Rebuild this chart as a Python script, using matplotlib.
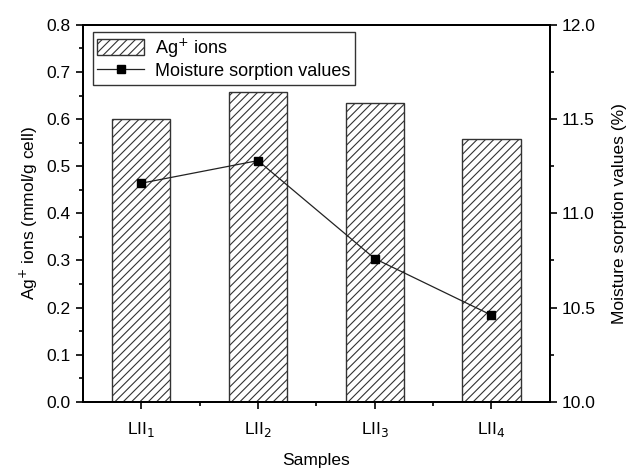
import matplotlib
matplotlib.use("Agg")
import matplotlib.pyplot as plt
from matplotlib.ticker import MultipleLocator, FixedLocator

plt.rcParams['font.family'] = ['Liberation Sans', 'DejaVu Sans']
plt.rcParams['hatch.linewidth'] = 0.8
plt.rcParams['hatch.color'] = '#333333'

# data
samples = ['LII$_1$', 'LII$_2$', 'LII$_3$', 'LII$_4$']
ag_ions = [0.600, 0.657, 0.635, 0.558]
moisture = [11.16, 11.28, 10.76, 10.46]

fig = plt.figure(figsize=(6.32, 4.70), dpi=100)
ax = fig.add_axes([0.131, 0.145, 0.739, 0.802])
x = list(range(len(samples)))

bars = ax.bar(x, ag_ions, width=0.5, color='white', edgecolor='#333333',
              linewidth=1.0, hatch='////', label='Ag$^{+}$ ions')
ax.set_xlim(-0.5, 3.5)
ax.set_ylim(0, 0.8)
ax.set_xticks(x)
ax.set_xticklabels(samples)
ax.xaxis.set_minor_locator(FixedLocator([0.5, 1.5, 2.5]))
ax.yaxis.set_major_locator(MultipleLocator(0.1))
ax.yaxis.set_minor_locator(MultipleLocator(0.05))
ax.set_xlabel('Samples', fontsize=12.5, labelpad=10)
ax.set_ylabel('Ag$^{+}$ ions (mmol/g cell)', fontsize=12.5, labelpad=5)
ax.tick_params(axis='both', which='major', direction='out', length=5, width=1.2, labelsize=12.5)
ax.tick_params(axis='both', which='minor', direction='out', length=3, width=1.2)
ax.tick_params(axis='x', which='major', pad=8)
for s in ax.spines.values():
    s.set_linewidth(1.4)

ax2 = ax.twinx()
line, = ax2.plot(x, moisture, color='#222222', linewidth=0.9, marker='s',
                 markersize=6, markerfacecolor='black', markeredgecolor='black',
                 label='Moisture sorption values')
ax2.set_ylim(10.0, 12.0)
ax2.yaxis.set_major_locator(MultipleLocator(0.5))
ax2.yaxis.set_minor_locator(MultipleLocator(0.25))
ax2.set_ylabel('Moisture sorption values (%)', fontsize=12.5, labelpad=12)
ax2.tick_params(axis='y', which='major', direction='out', length=5, width=1.2, labelsize=12.5)
ax2.tick_params(axis='y', which='minor', direction='out', length=3, width=1.2)
for s in ax2.spines.values():
    s.set_linewidth(1.4)

leg = ax.legend([bars, line], ['Ag$^{+}$ ions', 'Moisture sorption values'],
                loc='upper left', bbox_to_anchor=(0.021, 0.982), fontsize=13,
                frameon=True, fancybox=False, edgecolor='black',
                handlelength=2.6, handleheight=1.0, borderpad=0.25,
                labelspacing=0.15, borderaxespad=0.0, handletextpad=0.6)
leg.get_frame().set_linewidth(1.0)

fig.savefig('out.png', dpi=100)
